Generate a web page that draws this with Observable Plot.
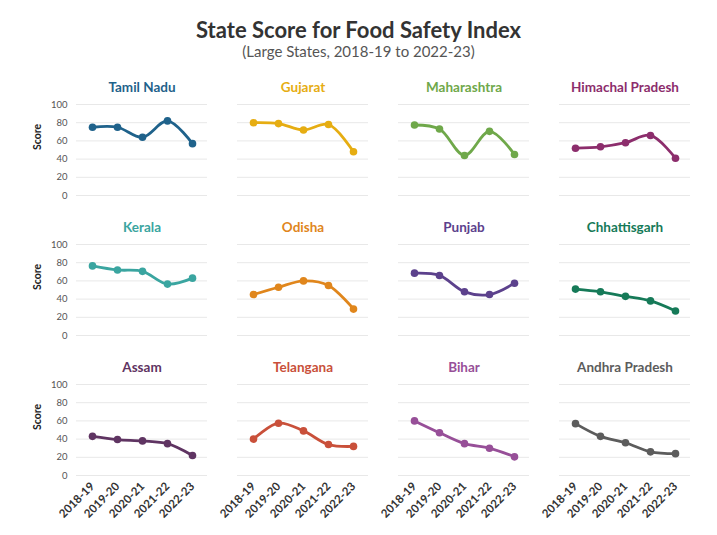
<!DOCTYPE html>
<html>
<head>
<meta charset="utf-8">
<script src="https://cdn.jsdelivr.net/npm/d3@7"></script>
<script src="https://cdn.jsdelivr.net/npm/@observablehq/plot@0.6"></script>
<style>
  html, body { margin: 0; padding: 0; background: #fff; }
  body { width: 717px; height: 535px; position: relative; overflow: hidden; font-family: Lato, "Open Sans", sans-serif; }
  #title { position: absolute; top: 17px; left: 0; width: 717px; text-align: center; font-size: 22px; font-weight: 700; color: #333; line-height: 26px; }
  #subtitle { position: absolute; top: 42px; left: 0; width: 717px; text-align: center; font-size: 15px; color: #555; line-height: 18px; }
  #chart { position: absolute; top: 65px; left: 0; }
</style>
</head>
<body>
<div id="title">State Score for Food Safety Index</div>
<div id="subtitle">(Large States, 2018-19 to 2022-23)</div>
<div id="chart"></div>
<script>
const years = ["2018-19", "2019-20", "2020-21", "2021-22", "2022-23"];
const states = ["Tamil Nadu", "Gujarat", "Maharashtra", "Himachal Pradesh",
                "Kerala", "Odisha", "Punjab", "Chhattisgarh",
                "Assam", "Telangana", "Bihar", "Andhra Pradesh"];
const stateColors = ["#1f628b", "#e6ad12", "#6fa84a", "#8c2d6c",
                     "#3aa5a0", "#e0861c", "#5c418c", "#167a58",
                     "#5f3462", "#c9503a", "#974f98", "#5c5c5c"];
const tamilNadu = [75, 75, 64, 82, 57];
const gujarat = [80, 79, 72, 78, 48];
const maharashtra = [77.5, 73, 44, 70.5, 45];
const himachalPradesh = [52, 53.5, 58, 66, 41];
const kerala = [76.5, 72, 70.5, 56.5, 63];
const odisha = [45, 53, 60, 55, 29];
const punjab = [68.5, 66, 48, 45, 57.5];
const chhattisgarh = [51, 48, 43, 38, 27];
const assam = [43, 39.5, 38, 35, 22];
const telangana = [40, 57.5, 49, 34, 32];
const bihar = [60, 47, 35, 30, 20.5];
const andhraPradesh = [57, 43, 36, 26, 24];
const yTicks = [0, 20, 40, 60, 80, 100];

const seriesValues = [tamilNadu, gujarat, maharashtra, himachalPradesh, kerala, odisha,
                      punjab, chhattisgarh, assam, telangana, bihar, andhraPradesh];

const panels = states.map((s, i) => ({state: s, color: stateColors[i], col: i % 4, row: Math.floor(i / 4)}));
const data = panels.flatMap((p, i) => years.map((y, j) => ({...p, year: y, score: seriesValues[i][j]})));
const rows = [0, 1, 2];

const chart = Plot.plot({
  width: 717,
  height: 470,
  marginLeft: 75,
  marginRight: 25,
  marginTop: 39,
  marginBottom: 60,
  style: {fontFamily: "Lato, 'Open Sans', sans-serif", background: "#fff"},
  fx: {domain: [0, 1, 2, 3], paddingInner: 0.184, paddingOuter: 0, axis: null},
  fy: {domain: [0, 1, 2], paddingInner: 0.35, paddingOuter: 0, axis: null},
  x: {domain: years, type: "point", padding: 0.52},
  y: {domain: [0, 100]},
  color: {type: "identity"},
  marks: [
    Plot.gridY(yTicks, {stroke: "#e8e8e8", strokeOpacity: 1, strokeWidth: 1}),
    Plot.axisY(yTicks, {tickSize: 0, tickPadding: 9, fontSize: 9.5, fill: "#555", label: null}),
    Plot.axisX({tickSize: 0, tickPadding: 9, tickRotate: -45, fontSize: 11.5, fontWeight: "bold", fill: "#333", label: null}),
    Plot.line(data, {x: "year", y: "score", fx: "col", fy: "row", z: "state", stroke: "color", strokeWidth: 2.8, curve: "catmull-rom"}),
    Plot.dot(data, {x: "year", y: "score", fx: "col", fy: "row", fill: "color", r: 3.8}),
    Plot.text(panels, {fx: "col", fy: "row", text: "state", fill: "color", frameAnchor: "top", lineAnchor: "middle", dy: -17, fontSize: 13.5, fontWeight: "bold"}),
    Plot.text(rows, {fx: () => 0, fy: d => d, text: () => "Score", frameAnchor: "left", dx: -39, rotate: -90, fontSize: 10.5, fontWeight: "bold", fill: "#222"})
  ]
});
document.getElementById("chart").appendChild(chart);
</script>
</body>
</html>
